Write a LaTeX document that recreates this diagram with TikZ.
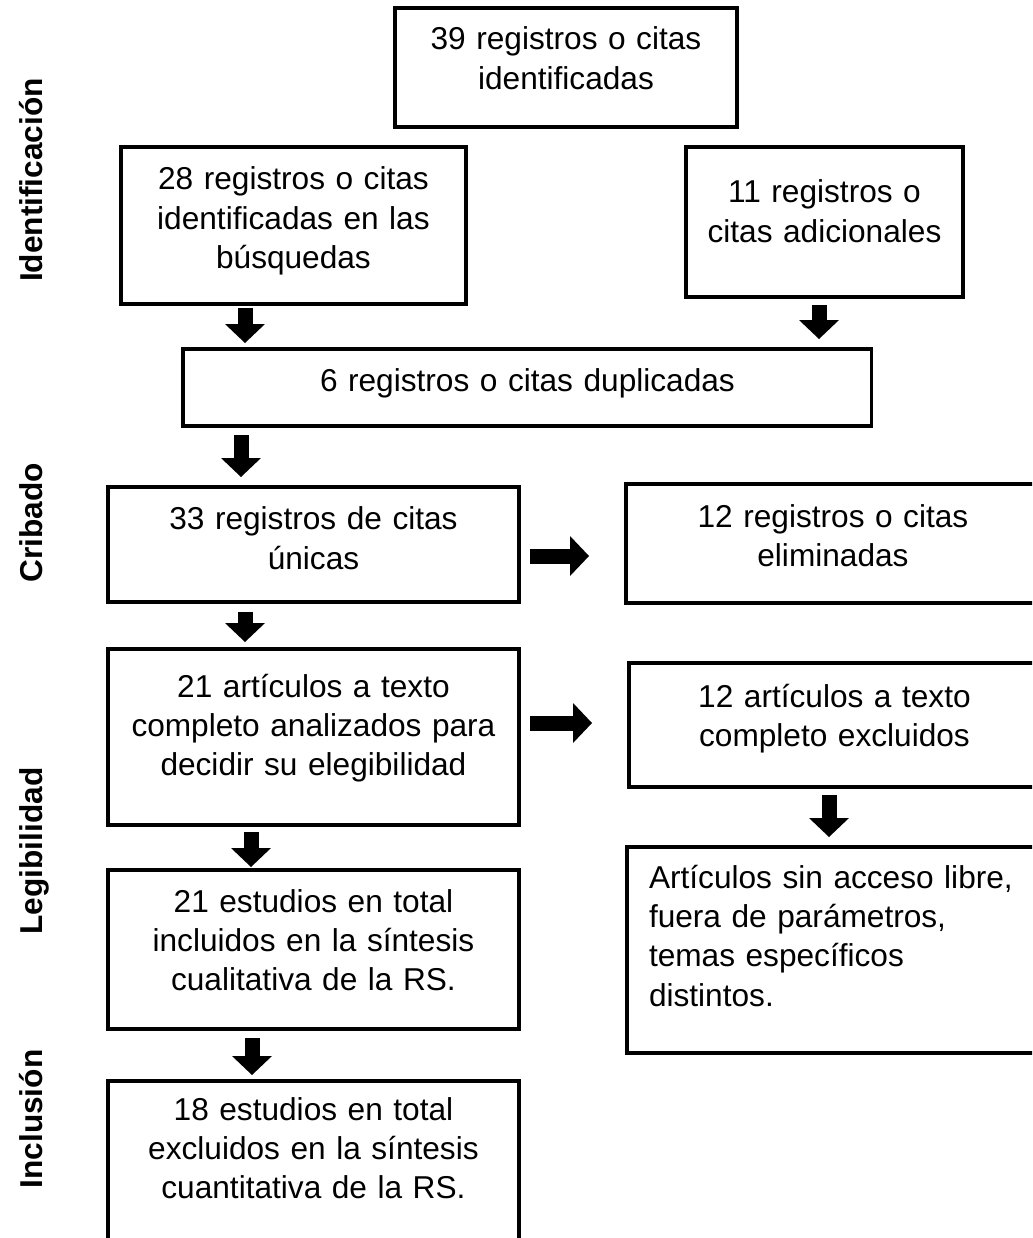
\documentclass[tikz,border=0pt]{standalone}
\usepackage{fontspec}
\setmainfont{Liberation Sans}
\usetikzlibrary{arrows.meta}

\begin{document}
\begin{tikzpicture}[x=0.02cm,y=-0.02cm,
      main box/.style={draw,line width=1.8pt,outer sep=0pt,inner sep=0pt,anchor=north west,
        align=center,font=\fontsize{18}{22.4}\selectfont},
      stage node/.style={rotate=90,anchor=base,inner sep=0pt,font=\fontsize{18}{22}\selectfont\bfseries},
      big arrow/.style={line width=0.3cm,-{Triangle[width=0.8cm,length=0.38cm,line width=0pt]}}]

      \useasboundingbox (0,0) rectangle (1032,1238);
      \clip (0,0) rectangle (1032,1238);

      \node[main box,text width=6.84cm,text height=0.84cm,text depth=1.54cm] (1) at (395,8) {39 registros o citas\\identificadas};
      \node[main box,text width=6.9cm,text height=0.86cm,text depth=2.28cm] (2) at (121,147) {28 registros o citas\\identificadas en las\\búsquedas};
      \node[main box,text width=5.54cm,text height=1.12cm,text depth=1.88cm] (3) at (686,147) {11 registros o\\citas adicionales};
      \node[main box,text width=13.78cm,text height=0.86cm,text depth=0.68cm] (4) at (183,349) {6 registros o citas duplicadas};
      \node[main box,text width=8.22cm,text height=0.86cm,text depth=1.44cm] (5) at (108,487) {33 registros de citas\\únicas};
      \node[main box,text width=8.28cm,text height=0.86cm,text depth=1.52cm] (6) at (626,484) {12 registros o citas\\eliminadas};
      \node[main box,text width=8.22cm,text height=0.96cm,text depth=2.56cm] (7) at (108,649) {21 artículos a texto\\completo analizados para\\decidir su elegibilidad};
      \node[main box,text width=8.22cm,text height=0.88cm,text depth=1.6cm] (8) at (629,663) {12 artículos a texto\\completo excluidos};
      \node[main box,align=left,inner xsep=0.44cm,text width=7.78cm,text height=0.82cm,text depth=3.3cm] (9) at (627,847) {Artículos sin acceso libre,\\fuera de parámetros,\\temas específicos\\distintos.};
      \node[main box,text width=8.22cm,text height=0.84cm,text depth=2.34cm] (10) at (108,870) {21 estudios en total\\incluidos en la síntesis\\cualitativa de la RS.};
      \node[main box,text width=8.22cm,text height=0.78cm,text depth=4cm] (11) at (108,1081) {18 estudios en total\\excluidos en la síntesis\\cuantitativa de la RS.};

      \node[stage node] (12) at (42,180) {Identificación};
      \node[stage node] (13) at (42,523) {Cribado};
      \node[stage node] (14) at (42,851) {Legibilidad};
      \node[stage node] (15) at (42,1119) {Inclusión};

      \path[big arrow]
        (245,0 |- 2.south) edge[shorten <=0.08cm,shorten >=0.12cm] (245,0 |- 4.north)
        (819,0 |- 3.south) edge[shorten <=0.16cm,shorten >=0.2cm] (819,0 |- 4.north)
        (241,0 |- 4.south) edge[shorten <=0.18cm,shorten >=0.2cm] (241,0 |- 5.north)
        (5.east |- 0,556) edge[shorten <=0.22cm,shorten >=0.74cm] (6.west |- 0,556)
        (245,0 |- 5.south) edge[shorten <=0.2cm,shorten >=0.14cm] (245,0 |- 7.north)
        (7.east |- 0,723) edge[shorten <=0.22cm,shorten >=0.74cm] (8.west |- 0,723)
        (829,0 |- 8.south) edge[shorten <=0.16cm,shorten >=0.2cm] (829,0 |- 9.north)
        (251,0 |- 7.south) edge[shorten <=0.14cm,shorten >=0.06cm] (251,0 |- 10.north)
        (252,0 |- 10.south) edge[shorten <=0.18cm,shorten >=0.12cm] (252,0 |- 11.north);
    \end{tikzpicture}
\end{document}
